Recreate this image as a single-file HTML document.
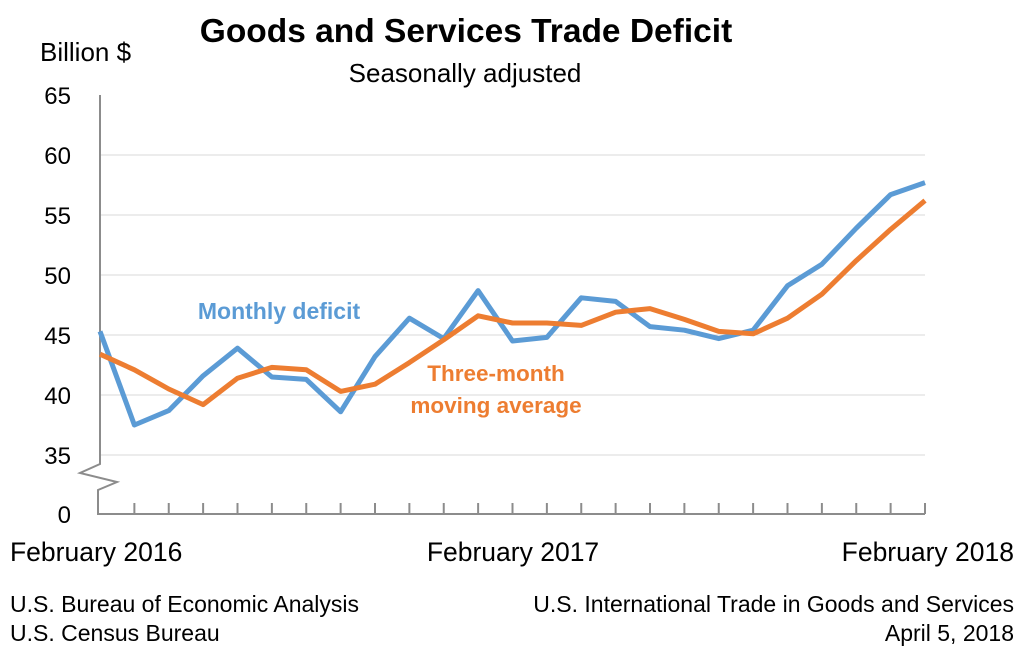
<!DOCTYPE html>
<html><head><meta charset="utf-8"><style>
body{margin:0;background:#fff;width:1024px;height:659px;overflow:hidden;font-family:"Liberation Sans",sans-serif}
text{font-family:"Liberation Sans",sans-serif}
</style></head><body>
<svg id="c" width="1024" height="659">
<text x="466" y="42" font-size="33.5" font-weight="bold" text-anchor="middle">Goods and Services Trade Deficit</text>
<text x="465" y="82" font-size="26" text-anchor="middle">Seasonally adjusted</text>
<text x="40" y="61" font-size="26">Billion $</text>
<g id="grid"></g><g id="axes"></g><g id="lines"></g>
<text x="279" y="319" font-size="23" font-weight="bold" fill="#5b9bd5" text-anchor="middle">Monthly deficit</text>
<text x="496" y="381" font-size="22.5" font-weight="bold" fill="#ed7d31" text-anchor="middle">Three-month</text>
<text x="496" y="413" font-size="22.5" font-weight="bold" fill="#ed7d31" text-anchor="middle">moving average</text>
<text x="10" y="561" font-size="26.5">February 2016</text>
<text x="513" y="561" font-size="26.5" text-anchor="middle">February 2017</text>
<text x="1014" y="561" font-size="26.5" text-anchor="end">February 2018</text>
<text x="10" y="612" font-size="23">U.S. Bureau of Economic Analysis</text>
<text x="10" y="641" font-size="23">U.S. Census Bureau</text>
<text x="1014" y="612" font-size="23" text-anchor="end">U.S. International Trade in Goods and Services</text>
<text x="1014" y="641" font-size="23" text-anchor="end">April 5, 2018</text>
</svg>
<script>
const months=25;
const monthly=[45.3,37.5,38.7,41.6,43.9,41.5,41.3,38.6,43.2,46.4,44.7,48.7,44.5,44.8,48.1,47.8,45.7,45.4,44.7,45.4,49.1,50.9,53.9,56.7,57.7];
const average=[43.4,42.1,40.5,39.2,41.4,42.3,42.1,40.3,40.9,42.7,44.6,46.6,46.0,46.0,45.8,46.9,47.2,46.3,45.3,45.1,46.4,48.4,51.2,53.8,56.2];
const yTicks=[35,40,45,50,55,60,65];
const NS="http://www.w3.org/2000/svg";
const x0=100,x1=925;
const X=i=>x0+(x1-x0)*i/(months-1);
const Y=v=>95+(65-v)*12;
function mk(t,a,p){const e=document.createElementNS(NS,t);for(const k in a)e.setAttribute(k,a[k]);document.getElementById(p).appendChild(e);return e;}
yTicks.forEach(v=>{
 if(v<65){const l=mk('line',{x1:x0,x2:x1,y1:Y(v),y2:Y(v),stroke:'#d9d9d9','stroke-width':1},'grid');
 
 }
 const t=mk('text',{x:71,y:Y(v)+9,'font-size':24,'text-anchor':'end'},'grid');t.textContent=v;
 
 
});
const z=mk('text',{x:71,y:523,'font-size':24,'text-anchor':'end'},'grid');z.textContent='0';


const ax=mk('path',{d:`M${x0} 95 V464 L80 473 L117 482 L98 490 V514 H${x1}`,fill:'none',stroke:'#8c8c8c','stroke-width':2},'axes');


for(let i=1;i<months;i++){const t=mk('line',{x1:X(i),x2:X(i),y1:514,y2:503,stroke:'#8c8c8c','stroke-width':2},'axes');
 
 }
function line(d,c,n){const p=mk('polyline',{points:d.map((v,i)=>X(i)+','+Y(v)).join(' '),fill:'none',stroke:c,'stroke-width':5,'stroke-linejoin':'round'},'lines');
 
 }
line(monthly,'#5b9bd5','monthly-deficit-line');
line(average,'#ed7d31','moving-average-line');
</script>
</body></html>
